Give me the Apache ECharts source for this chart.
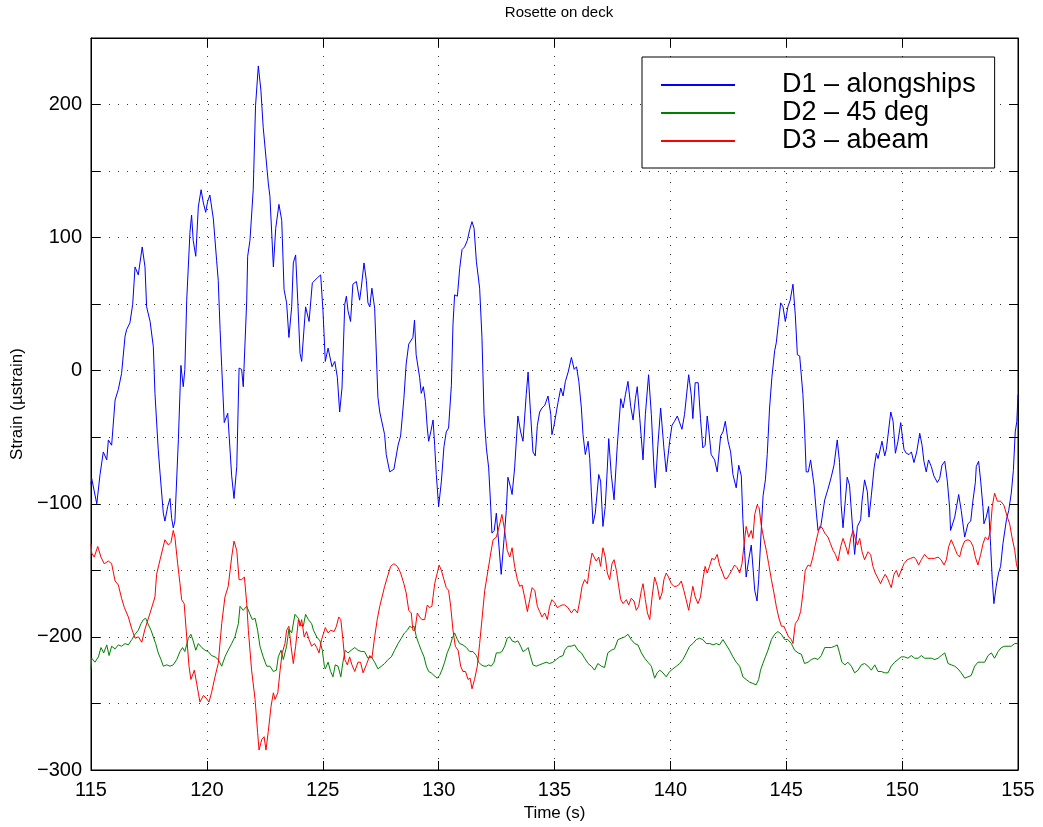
<!DOCTYPE html>
<html>
<head>
<meta charset="utf-8">
<script src="https://cdn.jsdelivr.net/npm/echarts@6/dist/echarts.min.js"></script>
<style>
html,body{margin:0;padding:0;background:#fff;}
#chart{width:1043px;height:827px;}
</style>
</head>
<body>
<div id="chart"></div>
<script>
// ---- Data ----
const seriesNames = ['D1 \u2013 alongships', 'D2 \u2013 45 deg', 'D3 \u2013 abeam'];
const xTicks = [115, 120, 125, 130, 135, 140, 145, 150, 155];
const yTicks = [-300, -200, -100, 0, 100, 200];

const d1Time = [115.0,115.03,115.25,115.39,115.53,115.68,115.75,115.89,116.04,116.18,116.32,116.47,116.54,116.68,116.8,116.9,117.04,117.21,117.33,117.4,117.55,117.69,117.76,117.9,117.98,118.12,118.19,118.31,118.41,118.48,118.55,118.62,118.77,118.88,118.98,119.05,119.13,119.27,119.34,119.41,119.52,119.63,119.75,119.85,119.95,120.03,120.13,120.28,120.42,120.49,120.57,120.64,120.75,120.9,121.07,121.17,121.29,121.39,121.5,121.57,121.72,121.76,121.86,122.0,122.1,122.22,122.33,122.43,122.65,122.72,122.87,122.97,123.11,123.23,123.33,123.44,123.54,123.66,123.73,123.83,123.92,124.02,124.09,124.26,124.41,124.55,124.78,124.91,125.01,125.11,125.23,125.4,125.52,125.63,125.73,125.83,125.95,126.02,126.09,126.2,126.3,126.45,126.59,126.66,126.78,126.88,126.95,127.03,127.12,127.24,127.38,127.46,127.67,127.74,127.89,128.07,128.25,128.36,128.5,128.6,128.71,128.89,128.96,129.03,129.18,129.25,129.34,129.43,129.51,129.57,129.66,129.76,129.83,129.9,130.0,130.12,130.23,130.33,130.43,130.55,130.62,130.69,130.81,130.91,131.01,131.12,131.24,131.34,131.44,131.53,131.63,131.77,131.87,131.96,132.06,132.16,132.25,132.3,132.4,132.49,132.7,132.82,132.92,132.99,133.11,133.17,133.28,133.42,133.54,133.64,133.78,133.86,133.97,134.07,134.17,134.26,134.36,134.46,134.58,134.72,134.84,134.89,134.98,135.08,135.15,135.27,135.37,135.47,135.59,135.73,135.85,135.95,136.05,136.16,136.23,136.33,136.45,136.52,136.59,136.66,136.76,136.91,136.99,137.09,137.19,137.28,137.34,137.45,137.57,137.71,137.86,137.96,138.06,138.17,138.29,138.39,138.49,138.57,138.68,138.82,138.92,139.06,139.18,139.29,139.35,139.46,139.58,139.72,139.82,139.97,140.07,140.18,140.3,140.5,140.61,140.73,140.79,140.9,140.97,141.07,141.2,141.3,141.4,141.5,141.59,141.65,141.76,141.91,142.02,142.17,142.27,142.37,142.49,142.6,142.7,142.84,142.95,143.06,143.13,143.2,143.27,143.38,143.49,143.64,143.74,143.81,143.92,144.0,144.1,144.18,144.28,144.38,144.5,144.57,144.67,144.76,144.86,144.96,145.07,145.17,145.29,145.39,145.48,145.58,145.65,145.72,145.79,145.86,145.95,146.05,146.2,146.3,146.37,146.48,146.66,146.8,146.94,147.06,147.2,147.3,147.37,147.45,147.55,147.63,147.73,147.8,147.88,147.95,148.07,148.21,148.27,148.38,148.5,148.57,148.67,148.79,148.89,148.96,149.03,149.13,149.25,149.32,149.51,149.61,149.71,149.82,149.94,150.0,150.08,150.18,150.3,150.4,150.51,150.63,150.76,150.86,150.94,151.04,151.14,151.26,151.37,151.52,151.62,151.72,151.84,151.95,152.05,152.09,152.27,152.44,152.55,152.7,152.84,152.96,153.06,153.16,153.2,153.3,153.39,153.49,153.53,153.63,153.73,153.82,153.89,153.96,154.06,154.16,154.25,154.35,154.5,154.6,154.71,154.8,154.88,154.95,155.0];
const d1Strain = [-85,-81,-100,-78,-61,-67,-52,-56,-22,-14,-2,26,31,36,50,78,72,93,78,48,37,18,-17,-59,-77,-107,-113,-102,-96,-111,-118,-113,-52,4,-12,1,53,104,117,98,86,123,136,126,119,127,132,114,83,68,31,3,-39,-32,-79,-96,-72,2,1,-12,53,86,98,136,199,229,211,183,141,131,78,107,125,113,61,51,25,48,81,87,53,13,7,48,37,66,70,72,45,7,17,3,7,-5,-31,-13,50,56,45,37,65,67,53,62,81,68,51,48,62,47,-20,-31,-48,-63,-76,-74,-56,-49,-21,5,20,25,38,12,-5,-17,-12,-23,-43,-53,-46,-37,-56,-78,-102,-83,-57,-46,-43,-11,35,57,56,77,91,93,98,106,112,107,82,62,25,-33,-58,-73,-103,-122,-120,-107,-153,-127,-105,-80,-88,-93,-73,-34,-46,-53,-18,-1,-33,-61,-64,-41,-31,-28,-26,-19,-33,-48,-41,-31,-24,-13,-19,-8,-1,10,1,3,-8,-28,-48,-63,-53,-66,-91,-115,-107,-78,-83,-117,-102,-73,-51,-78,-97,-56,-21,-28,-18,-8,-27,-37,-21,-12,-36,-67,-33,-3,-33,-73,-88,-56,-28,-58,-76,-53,-41,-38,-34,-44,-33,-13,-3,-18,-36,-9,-9,-36,-58,-56,-34,-43,-63,-67,-76,-49,-46,-38,-53,-61,-78,-88,-71,-79,-112,-135,-155,-142,-131,-165,-173,-157,-120,-94,-82,-63,-28,-5,15,21,37,51,48,37,48,53,65,42,12,11,11,-18,-43,-76,-76,-67,-86,-107,-120,-118,-97,-89,-80,-71,-52,-69,-101,-118,-97,-80,-86,-103,-122,-138,-117,-112,-98,-82,-91,-110,-94,-73,-62,-66,-61,-53,-64,-59,-31,-38,-62,-53,-39,-48,-59,-62,-63,-61,-69,-61,-47,-56,-68,-76,-67,-72,-79,-84,-81,-71,-68,-83,-103,-120,-110,-93,-105,-125,-115,-113,-97,-84,-72,-68,-83,-103,-115,-110,-102,-132,-157,-175,-162,-152,-147,-130,-112,-105,-92,-75,-46,-38,-18];

const d2Time = [115.0,115.03,115.17,115.32,115.43,115.55,115.68,115.78,115.89,116.04,116.18,116.32,116.47,116.61,116.76,116.9,117.04,117.16,117.26,117.36,117.48,117.59,117.69,117.79,117.9,118.02,118.12,118.27,118.41,118.55,118.7,118.84,118.95,119.05,119.2,119.31,119.41,119.52,119.63,119.78,119.92,120.06,120.2,120.35,120.49,120.64,120.78,120.92,121.07,121.21,121.36,121.43,121.57,121.72,121.86,121.96,122.08,122.19,122.29,122.43,122.58,122.72,122.87,123.0,123.08,123.2,123.3,123.44,123.54,123.66,123.8,123.95,124.05,124.16,124.26,124.38,124.52,124.6,124.74,124.88,124.98,125.07,125.11,125.23,125.34,125.44,125.54,125.66,125.78,125.87,125.97,126.09,126.23,126.38,126.52,126.66,126.8,126.95,127.1,127.24,127.38,127.53,127.67,127.82,127.96,128.1,128.25,128.39,128.53,128.65,128.75,128.85,128.94,129.04,129.14,129.25,129.37,129.47,129.57,129.68,129.8,129.94,130.04,130.14,130.26,130.37,130.49,130.59,130.69,130.81,130.91,131.05,131.2,131.34,131.48,131.63,131.73,131.84,131.96,132.06,132.16,132.27,132.39,132.49,132.62,132.73,132.85,132.96,133.07,133.17,133.3,133.42,133.54,133.64,133.75,133.86,133.97,134.07,134.21,134.35,134.5,134.64,134.79,134.93,135.08,135.22,135.37,135.44,135.58,135.72,135.87,136.01,136.16,136.3,136.45,136.59,136.73,136.87,137.02,137.16,137.3,137.45,137.59,137.74,137.88,138.03,138.17,138.31,138.46,138.6,138.75,138.89,139.03,139.18,139.32,139.43,139.54,139.68,139.82,139.97,140.11,140.26,140.4,140.54,140.69,140.83,140.97,141.12,141.26,141.4,141.55,141.7,141.84,141.98,142.12,142.27,142.41,142.55,142.7,142.84,142.99,143.13,143.27,143.42,143.56,143.7,143.81,143.89,143.99,144.1,144.21,144.36,144.5,144.64,144.79,144.93,145.07,145.22,145.36,145.51,145.65,145.79,145.94,146.08,146.23,146.37,146.51,146.66,146.8,146.94,147.09,147.2,147.3,147.4,147.53,147.66,147.81,147.95,148.1,148.24,148.38,148.53,148.67,148.82,148.96,149.1,149.25,149.39,149.53,149.68,149.82,149.96,150.1,150.25,150.4,150.54,150.69,150.83,150.97,151.12,151.26,151.41,151.55,151.69,151.84,151.98,152.12,152.27,152.41,152.55,152.7,152.84,152.98,153.13,153.27,153.42,153.56,153.71,153.85,153.99,154.14,154.28,154.43,154.57,154.71,154.86,155.0];
const d2Strain = [-224,-216,-219,-215,-208,-212,-206,-214,-207,-209,-206,-207,-205,-206,-202,-198,-195,-190,-187,-186,-191,-195,-200,-205,-212,-217,-222,-221,-222,-221,-217,-211,-208,-211,-201,-198,-203,-210,-205,-208,-210,-211,-214,-215,-217,-222,-215,-210,-205,-200,-190,-177,-180,-177,-183,-187,-186,-195,-207,-215,-222,-222,-226,-225,-215,-210,-217,-207,-194,-197,-183,-186,-191,-192,-183,-187,-190,-195,-200,-203,-210,-222,-224,-219,-226,-230,-221,-222,-230,-219,-210,-212,-210,-208,-210,-211,-211,-216,-215,-219,-224,-222,-220,-217,-215,-210,-205,-201,-197,-195,-192,-193,-192,-200,-205,-210,-215,-222,-226,-227,-229,-231,-229,-225,-219,-212,-207,-201,-197,-202,-205,-206,-208,-211,-211,-214,-219,-221,-222,-222,-221,-222,-219,-212,-212,-211,-207,-201,-200,-203,-204,-203,-207,-211,-210,-208,-215,-221,-222,-221,-220,-219,-220,-219,-217,-215,-214,-210,-207,-207,-206,-210,-212,-216,-220,-222,-225,-220,-222,-223,-212,-210,-209,-202,-201,-200,-198,-202,-205,-206,-212,-216,-219,-222,-231,-227,-225,-227,-230,-226,-224,-222,-220,-217,-212,-207,-205,-202,-201,-202,-205,-205,-206,-205,-206,-202,-206,-210,-215,-219,-222,-230,-232,-234,-235,-236,-232,-225,-220,-215,-210,-202,-198,-196,-198,-202,-202,-205,-210,-212,-213,-220,-219,-217,-216,-217,-214,-208,-208,-208,-207,-206,-212,-219,-221,-219,-222,-227,-225,-221,-220,-222,-225,-221,-226,-226,-227,-227,-222,-219,-217,-215,-215,-216,-214,-216,-216,-214,-216,-216,-216,-217,-216,-214,-212,-220,-221,-222,-224,-227,-231,-230,-229,-222,-219,-219,-219,-214,-212,-216,-211,-208,-207,-207,-207,-205,-205];

const d3Time = [115.0,115.03,115.14,115.29,115.43,115.57,115.75,115.89,116.04,116.18,116.32,116.44,116.61,116.76,116.9,117.05,117.19,117.33,117.55,117.76,117.83,117.98,118.19,118.34,118.45,118.55,118.62,118.74,118.84,118.91,119.02,119.13,119.23,119.31,119.46,119.56,119.7,119.85,119.97,120.09,120.2,120.35,120.49,120.64,120.78,120.92,121.07,121.17,121.29,121.39,121.5,121.62,121.72,121.79,121.93,122.08,122.19,122.25,122.37,122.47,122.55,122.65,122.77,122.87,122.94,123.06,123.16,123.25,123.37,123.44,123.54,123.63,123.73,123.83,123.95,124.02,124.09,124.2,124.3,124.41,124.52,124.64,124.74,124.84,124.95,125.01,125.11,125.23,125.34,125.49,125.59,125.69,125.78,125.87,125.95,126.06,126.16,126.26,126.38,126.52,126.63,126.74,126.88,127.03,127.12,127.24,127.35,127.46,127.56,127.67,127.79,127.93,128.07,128.22,128.36,128.5,128.6,128.71,128.82,128.89,128.98,129.08,129.18,129.28,129.4,129.51,129.61,129.71,129.83,129.94,130.02,130.12,130.23,130.33,130.43,130.52,130.62,130.72,130.84,130.95,131.05,131.16,131.27,131.36,131.44,131.55,131.67,131.77,131.87,131.99,132.13,132.25,132.35,132.49,132.64,132.73,132.85,132.96,133.07,133.17,133.28,133.4,133.5,133.6,133.71,133.83,133.93,134.03,134.15,134.26,134.36,134.46,134.58,134.69,134.79,134.89,135.0,135.12,135.22,135.33,135.44,135.58,135.73,135.86,135.99,136.09,136.19,136.3,136.42,136.52,136.62,136.7,136.8,136.91,136.99,137.09,137.19,137.28,137.38,137.48,137.57,137.67,137.77,137.86,137.96,138.1,138.2,138.31,138.43,138.53,138.63,138.75,138.82,138.92,139.01,139.11,139.21,139.32,139.44,139.54,139.64,139.72,139.82,139.92,140.04,140.15,140.25,140.36,140.47,140.58,140.68,140.79,140.87,140.97,141.07,141.19,141.3,141.4,141.5,141.59,141.69,141.79,141.91,142.02,142.12,142.22,142.34,142.45,142.55,142.65,142.77,142.88,142.99,143.09,143.17,143.27,143.38,143.49,143.56,143.64,143.74,143.83,143.92,144.04,144.14,144.24,144.36,144.47,144.57,144.67,144.79,144.9,145.0,145.1,145.22,145.29,145.39,145.51,145.62,145.72,145.82,145.94,146.04,146.15,146.25,146.37,146.44,146.55,146.66,146.8,146.91,147.02,147.12,147.23,147.35,147.45,147.55,147.67,147.78,147.88,147.98,148.07,148.17,148.27,148.38,148.53,148.64,148.74,148.84,148.96,149.07,149.17,149.27,149.37,149.46,149.53,149.65,149.75,149.85,149.96,150.08,150.22,150.37,150.51,150.61,150.71,150.83,150.97,151.11,151.26,151.4,151.55,151.68,151.81,151.91,152.01,152.12,152.24,152.38,152.48,152.58,152.7,152.84,152.95,153.06,153.16,153.27,153.39,153.49,153.59,153.71,153.8,153.89,153.99,154.11,154.25,154.39,154.54,154.64,154.74,154.86,154.93,155.0];
const d3Strain = [-130,-137,-140,-132,-140,-145,-143,-145,-158,-161,-171,-178,-185,-194,-201,-200,-204,-194,-182,-170,-153,-142,-127,-131,-129,-120,-125,-145,-160,-172,-175,-200,-222,-232,-225,-235,-249,-244,-246,-249,-242,-230,-220,-190,-170,-162,-140,-128,-135,-157,-157,-155,-175,-195,-225,-247,-272,-285,-277,-275,-285,-271,-252,-242,-247,-242,-225,-212,-205,-195,-192,-207,-220,-207,-187,-192,-187,-200,-196,-202,-207,-205,-208,-212,-202,-201,-193,-197,-195,-196,-192,-185,-187,-202,-217,-221,-215,-221,-226,-219,-219,-227,-221,-214,-216,-200,-187,-177,-170,-162,-155,-147,-145,-147,-152,-160,-167,-180,-182,-195,-195,-182,-185,-187,-187,-176,-178,-177,-160,-152,-146,-150,-157,-163,-165,-177,-195,-207,-210,-222,-226,-226,-232,-231,-239,-232,-222,-205,-187,-165,-150,-137,-127,-125,-115,-108,-120,-135,-140,-133,-147,-157,-162,-161,-170,-181,-172,-163,-165,-177,-181,-185,-182,-187,-177,-172,-174,-178,-177,-176,-176,-178,-182,-179,-182,-173,-162,-157,-160,-147,-137,-136,-143,-140,-147,-133,-140,-152,-157,-145,-142,-150,-162,-172,-175,-172,-176,-171,-173,-180,-177,-165,-160,-172,-182,-187,-170,-155,-162,-172,-167,-157,-152,-155,-160,-162,-162,-161,-158,-165,-172,-180,-172,-162,-170,-175,-170,-157,-147,-152,-147,-141,-142,-138,-146,-150,-156,-156,-153,-150,-146,-148,-152,-145,-132,-117,-125,-120,-126,-108,-101,-103,-116,-127,-135,-145,-157,-167,-177,-185,-192,-192,-196,-200,-202,-205,-190,-187,-181,-167,-150,-146,-147,-140,-131,-122,-117,-118,-122,-125,-130,-135,-138,-143,-132,-126,-131,-138,-126,-120,-126,-131,-126,-136,-142,-136,-138,-147,-152,-156,-160,-156,-153,-156,-160,-163,-153,-150,-155,-150,-145,-142,-141,-140,-142,-146,-142,-138,-141,-141,-141,-140,-142,-146,-142,-132,-127,-132,-138,-140,-133,-128,-127,-128,-132,-140,-146,-138,-130,-125,-127,-121,-102,-92,-98,-98,-101,-110,-115,-125,-135,-145,-150];

// ---- Build chart ----
function pairs(t, v) { return t.map((x, i) => [x, v[i]]); }
const minus = s => String(s).replace('-', '\u2212');
const FONT = '"Liberation Sans", Arial, Helvetica, sans-serif';
const dotted = { color: '#333', width: 1, type: [1, 8] };
const colors = ['#0000ff', '#008000', '#ff0000'];

const chart = echarts.init(document.getElementById('chart'), null, { renderer: 'canvas' });
const option = {
  animation: false,
  backgroundColor: '#fff',
  textStyle: { fontFamily: FONT },
  title: {
    text: 'Rosette on deck',
    left: 554, top: 0, textAlign: 'center',
    textStyle: { fontFamily: FONT, fontSize: 15, fontWeight: 'normal', color: '#000' }
  },
  grid: { left: 91, right: 25, top: 38, bottom: 57, show: true, borderColor: '#000', borderWidth: 1, backgroundColor: '#fff' },
  legend: {
    orient: 'vertical', left: 642, top: 57,
    padding: [14, 19, 13, 19], itemGap: 0, itemWidth: 74, itemHeight: 2,
    icon: 'rect',
    backgroundColor: '#fff', borderColor: '#000', borderWidth: 1, borderRadius: 0,
    textStyle: { fontFamily: FONT, fontSize: 27, lineHeight: 28, color: '#000', padding: [0, 0, 0, 42] },
    data: seriesNames
  },
  xAxis: [{
    type: 'value', min: xTicks[0], max: xTicks[xTicks.length - 1], interval: 5, position: 'bottom',
    name: 'Time (s)', nameLocation: 'middle', nameGap: 33,
    nameTextStyle: { fontFamily: FONT, fontSize: 17, color: '#000' },
    axisLine: { show: true, onZero: false, lineStyle: { color: '#000', width: 1 } },
    axisTick: { show: true, inside: true, length: 9, lineStyle: { color: '#000' } },
    axisLabel: { fontFamily: FONT, fontSize: 20, color: '#000', margin: 10, formatter: v => minus(v) },
    splitLine: { show: true, lineStyle: dotted }
  }, {
    type: 'value', min: xTicks[0], max: xTicks[xTicks.length - 1], interval: 5, position: 'top',
    axisLine: { show: true, onZero: false, lineStyle: { color: '#000', width: 1 } },
    axisTick: { show: true, inside: true, length: 9, lineStyle: { color: '#000' } },
    axisLabel: { show: false }, splitLine: { show: false }
  }],
  yAxis: [{
    type: 'value', min: -300, max: 250, interval: 50, position: 'left',
    name: 'Strain (\u00b5strain)', nameLocation: 'middle', nameGap: 63,
    nameTextStyle: { fontFamily: FONT, fontSize: 17, color: '#000' },
    axisLine: { show: true, onZero: false, lineStyle: { color: '#000', width: 1 } },
    axisTick: { show: true, inside: true, length: 9, lineStyle: { color: '#000' } },
    axisLabel: { fontFamily: FONT, fontSize: 20, color: '#000', margin: 9,
      formatter: v => (yTicks.indexOf(v) >= 0 ? minus(v) : '') },
    splitLine: { show: true, lineStyle: dotted }
  }, {
    type: 'value', min: -300, max: 250, interval: 50, position: 'right',
    axisLine: { show: true, onZero: false, lineStyle: { color: '#000', width: 1 } },
    axisTick: { show: true, inside: true, length: 9, lineStyle: { color: '#000' } },
    axisLabel: { show: false }, splitLine: { show: false }
  }],
  series: [
    { name: seriesNames[0], type: 'line', data: pairs(d1Time, d1Strain), symbol: 'none', showSymbol: false,
      lineStyle: { color: colors[0], width: 1 }, itemStyle: { color: colors[0] } },
    { name: seriesNames[1], type: 'line', data: pairs(d2Time, d2Strain), symbol: 'none', showSymbol: false,
      lineStyle: { color: colors[1], width: 1 }, itemStyle: { color: colors[1] } },
    { name: seriesNames[2], type: 'line', data: pairs(d3Time, d3Strain), symbol: 'none', showSymbol: false,
      lineStyle: { color: colors[2], width: 1 }, itemStyle: { color: colors[2] } }
  ]
};
chart.setOption(option);
</script>
</body>
</html>
